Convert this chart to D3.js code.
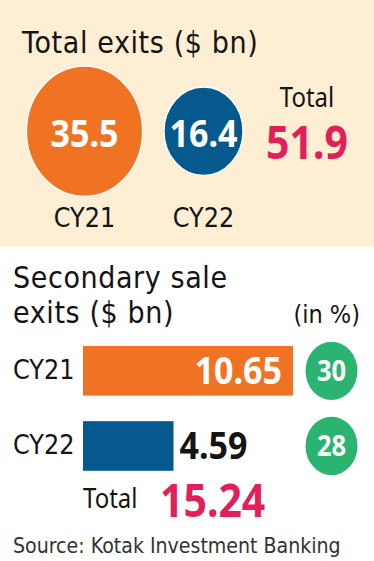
<!DOCTYPE html>
<html>
<head>
<meta charset="utf-8">
<script src="https://cdn.jsdelivr.net/npm/d3@7"></script>
<style>
  html, body { margin: 0; padding: 0; background: #fff; }
  svg { display: block; }
  text { font-family: "DejaVu Sans", "Noto Sans", sans-serif; }
  text.num, text.tot { font-family: "Noto Sans", "Open Sans", sans-serif; }
</style>
</head>
<body>
<div id="chart"></div>
<script>
// Total exits ($ bn)
const totalYears = ['CY21', 'CY22'];
const totalExits = [35.5, 16.4];
const totalSum = 51.9;

// Secondary sale exits ($ bn) and share (in %)
const secYears = ['CY21', 'CY22'];
const secExits = [10.65, 4.59];
const secShare = [30, 28];
const secSum = 15.24;

const YEAR_COLOR = { CY21: '#f07323', CY22: '#06598d' };
const RED = '#e21f5b';
const GREEN = '#2bb371';
const INK = '#141414';

// the original graphic is stretched a bit vertically, so draw in a shorter box
const W = 374, H = 500;
const svg = d3.select('#chart').append('svg')
  .attr('width', 374).attr('height', 561)
  .attr('viewBox', `0 0 ${W} ${H}`)
  .attr('preserveAspectRatio', 'none');

// ---- top panel: bubbles ----
svg.append('rect').attr('x', 0).attr('y', 0).attr('width', W).attr('height', 220)
  .attr('fill', '#fdeed4');

svg.append('text').attr('x', 22).attr('y', 47)
  .attr('font-size', 27).attr('letter-spacing', 0.6).attr('fill', INK)
  .text('Total exits ($ bn)');

const bx = d3.scalePoint().domain(totalYears).range([84.5, 203.5]);
const r = d3.scaleSqrt().domain([0, d3.max(totalExits)]).range([0, 58]);
const cy = 117;

const bubbles = svg.append('g').selectAll('g').data(totalYears).join('g')
  .attr('transform', d => `translate(${bx(d)},${cy})`);
bubbles.append('circle')
  .attr('r', (d, i) => r(totalExits[i]))
  .attr('fill', d => YEAR_COLOR[d])
  .attr('stroke', '#fff').attr('stroke-width', 1.2);
bubbles.append('text').attr('class', 'num')
  .attr('text-anchor', 'middle').attr('y', 14)
  .attr('font-size', 34).attr('font-weight', 700).attr('fill', '#fff')
  .text((d, i) => totalExits[i]);
svg.append('g').selectAll('text').data(totalYears).join('text')
  .attr('x', d => bx(d)).attr('y', 202)
  .attr('text-anchor', 'middle').attr('font-size', 24).attr('fill', INK)
  .text(d => d);

svg.append('text').attr('class', 'tot').attr('x', 307).attr('y', 95)
  .attr('text-anchor', 'middle').attr('font-size', 24).attr('fill', INK)
  .text('Total');
svg.append('text').attr('class', 'num').attr('x', 307).attr('y', 141.5)
  .attr('text-anchor', 'middle').attr('font-size', 41).attr('font-weight', 700).attr('fill', RED)
  .text(totalSum);

// ---- bottom panel: secondary sale bars ----
svg.append('text').attr('x', 13).attr('y', 256.5)
  .attr('font-size', 27).attr('letter-spacing', 0.6).attr('fill', INK)
  .text('Secondary sale');
svg.append('text').attr('x', 13).attr('y', 288)
  .attr('font-size', 27).attr('letter-spacing', 0.6).attr('fill', INK)
  .text('exits ($ bn)');
svg.append('text').attr('x', 360).attr('y', 288)
  .attr('text-anchor', 'end').attr('font-size', 22.5).attr('fill', INK)
  .text('(in %)');

const x = d3.scaleLinear().domain([0, d3.max(secExits)]).range([83, 293]);
const y = d3.scaleBand().domain(secYears).range([308.4, 419.6]).paddingInner(0.34);

const rows = svg.append('g').selectAll('g').data(secYears).join('g');
rows.append('rect')
  .attr('x', x(0)).attr('y', d => y(d))
  .attr('width', (d, i) => x(secExits[i]) - x(0)).attr('height', y.bandwidth())
  .attr('fill', d => YEAR_COLOR[d]);
rows.append('text')
  .attr('x', 13).attr('y', d => y(d) + y.bandwidth() / 2 + 7.5)
  .attr('font-size', 24).attr('fill', INK)
  .text(d => d);
rows.append('text').attr('class', 'num')
  .attr('y', d => y(d) + y.bandwidth() / 2 + 11.5)
  .attr('font-size', 34).attr('font-weight', 700)
  .each(function (d, i) {
    const w = x(secExits[i]) - x(0);
    const inside = w > 120;
    d3.select(this)
      .attr('x', inside ? x(secExits[i]) - 11 : x(secExits[i]) + 6)
      .attr('text-anchor', inside ? 'end' : 'start')
      .attr('fill', inside ? '#fff' : INK);
  })
  .text((d, i) => secExits[i].toFixed(2));
rows.append('circle')
  .attr('cx', 331.5).attr('cy', d => y(d) + y.bandwidth() / 2)
  .attr('r', 26).attr('fill', GREEN);
rows.append('text').attr('class', 'num')
  .attr('x', 331.5).attr('y', d => y(d) + y.bandwidth() / 2 + 9)
  .attr('text-anchor', 'middle').attr('font-size', 25.5).attr('font-weight', 700).attr('fill', '#fff')
  .text((d, i) => secShare[i]);

svg.append('text').attr('class', 'tot').attr('x', 83).attr('y', 453)
  .attr('font-size', 24).attr('fill', INK)
  .text('Total');
svg.append('text').attr('class', 'num').attr('x', 160).attr('y', 461)
  .attr('font-size', 41).attr('font-weight', 700).attr('fill', RED)
  .text(secSum.toFixed(2));

svg.append('text').attr('x', 13).attr('y', 493)
  .attr('font-size', 19).attr('fill', '#333')
  .text('Source: Kotak Investment Banking');
</script>
</body>
</html>
